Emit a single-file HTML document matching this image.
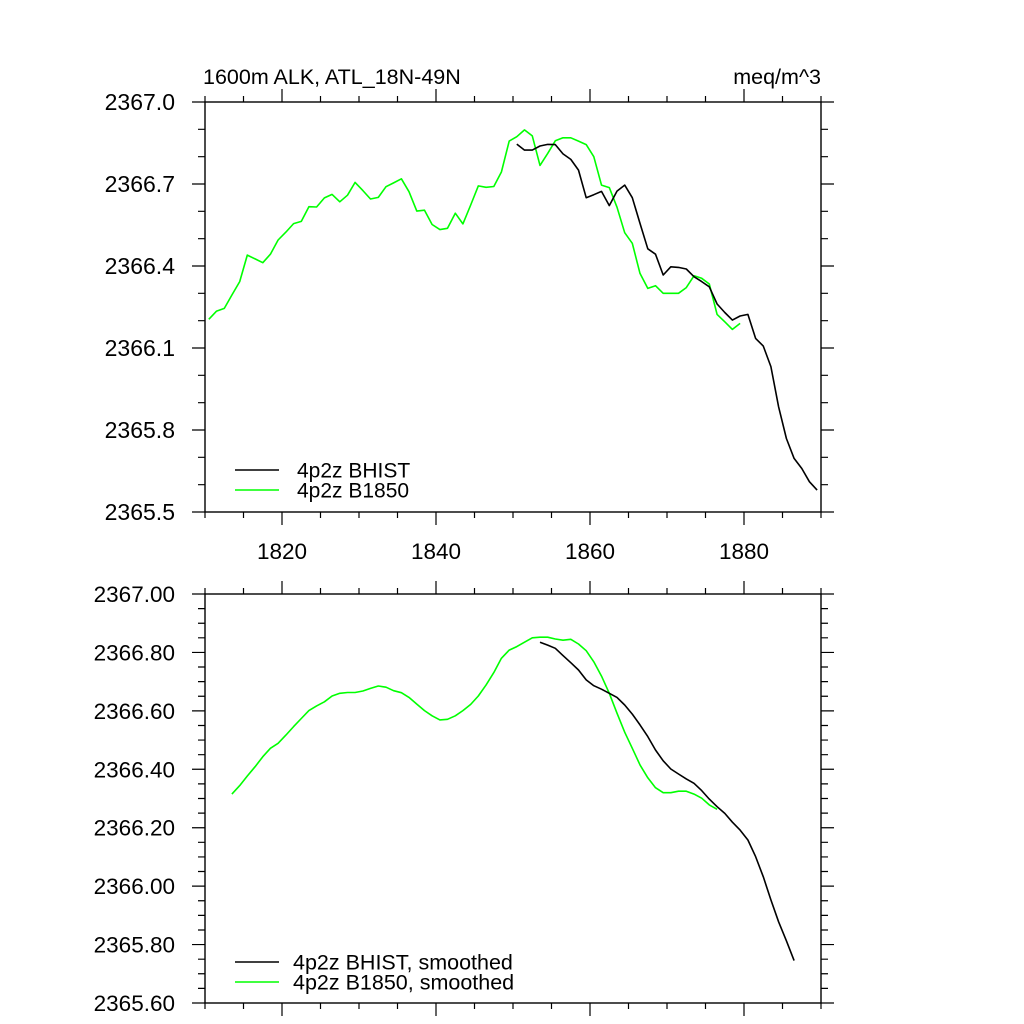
<!DOCTYPE html>
<html><head><meta charset="utf-8"><style>
html,body{margin:0;padding:0;background:#fff;}
svg{display:block;font-family:"Liberation Sans",sans-serif;}
</style></head><body>
<svg id="chart" width="1024" height="1024" viewBox="0 0 1024 1024" xmlns="http://www.w3.org/2000/svg">
<text x="203" y="84" font-size="21.5" fill="#000">1600m ALK, ATL_18N-49N</text>
<text x="821" y="84" font-size="21.5" fill="#000" text-anchor="end">meq/m^3</text>
<g id="top"></g>
<g id="bot"></g>
</svg>
<script>
const topYears0 = 1810.5;
const topGreen = [2366.205,2366.235,2366.245,2366.294,2366.343,2366.440,2366.426,2366.412,2366.443,2366.495,2366.524,2366.555,2366.563,2366.617,2366.616,2366.649,2366.662,2366.635,2366.659,2366.706,2366.676,2366.645,2366.651,2366.690,2366.704,2366.719,2366.672,2366.601,2366.604,2366.552,2366.533,2366.538,2366.593,2366.554,2366.623,2366.693,2366.688,2366.691,2366.744,2366.857,2366.873,2366.898,2366.876,2366.768,2366.812,2366.858,2366.869,2366.869,2366.857,2366.844,2366.800,2366.696,2366.687,2366.615,2366.522,2366.483,2366.373,2366.318,2366.328,2366.300,2366.300,2366.300,2366.321,2366.364,2366.355,2366.334,2366.223,2366.196,2366.168,2366.190];
const topBlackStart = 40;
const topBlack = [2366.846,2366.824,2366.824,2366.839,2366.845,2366.844,2366.810,2366.790,2366.751,2366.650,2366.661,2366.673,2366.621,2366.674,2366.696,2366.650,2366.556,2366.463,2366.443,2366.367,2366.397,2366.395,2366.389,2366.361,2366.343,2366.324,2366.261,2366.230,2366.202,2366.217,2366.223,2366.135,2366.107,2366.032,2365.885,2365.769,2365.696,2365.659,2365.611,2365.580];
const botGreenStart = 3;
const botGreen = [2366.315,2366.344,2366.377,2366.409,2366.443,2366.472,2366.489,2366.517,2366.546,2366.574,2366.601,2366.617,2366.631,2366.651,2366.660,2366.663,2366.663,2366.668,2366.677,2366.685,2366.681,2366.669,2366.662,2366.646,2366.623,2366.601,2366.583,2366.569,2366.571,2366.583,2366.601,2366.622,2366.651,2366.689,2366.731,2366.780,2366.808,2366.820,2366.835,2366.850,2366.852,2366.852,2366.846,2366.842,2366.845,2366.829,2366.806,2366.768,2366.719,2366.660,2366.592,2366.527,2366.472,2366.415,2366.371,2366.337,2366.320,2366.320,2366.325,2366.325,2366.315,2366.301,2366.278,2366.263];
const botBlackStart = 43;
const botBlack = [2366.835,2366.825,2366.814,2366.789,2366.765,2366.740,2366.706,2366.686,2366.674,2366.660,2366.646,2366.620,2366.589,2366.552,2366.512,2366.466,2366.429,2366.401,2366.384,2366.367,2366.352,2366.327,2366.298,2366.272,2366.249,2366.219,2366.192,2366.158,2366.101,2366.032,2365.953,2365.878,2365.813,2365.745];
const xTicks = [1820,1840,1860,1880];
const topYTicks = ["2367.0","2366.7","2366.4","2366.1","2365.8","2365.5"];
const botYTicks = ["2367.00","2366.80","2366.60","2366.40","2366.20","2366.00","2365.80","2365.60"];
const topLegend = ["4p2z BHIST","4p2z B1850"];
const botLegend = ["4p2z BHIST, smoothed","4p2z B1850, smoothed"];

const NS="http://www.w3.org/2000/svg";
const X0=205,X1=821,YR0=1810,YR1=1890;
function xs(yr){return X0+(yr-YR0)/(YR1-YR0)*(X1-X0);}
function mk(tag,attrs,parent){const e=document.createElementNS(NS,tag);for(const k in attrs)e.setAttribute(k,attrs[k]);parent.appendChild(e);return e;}

function panel(g,top,bot,vmin,vmax,majStep,minStep,yLabels,yFont,showX,legend,legY,legX,legFont,series){
  const ys=v=>bot-(v-vmin)/(vmax-vmin)*(bot-top);
  const frame=mk('rect',{x:X0,y:top,width:X1-X0,height:bot-top,fill:'none',stroke:'#000','stroke-width':1.4},g);
  
  
  let d='';
  for(let yr=YR0;yr<=YR1+0.01;yr+=5){
    const x=xs(yr);const L=(yr%20===0)?13:6;
    d+=`M${x},${bot}v${L}M${x},${top}v${-L}`;
  }
  const nMin=Math.round((vmax-vmin)/minStep);
  for(let i=0;i<=nMin;i++){
    const v=vmin+i*minStep;const y=ys(v);
    const maj=Math.abs((i*minStep)/majStep-Math.round((i*minStep)/majStep))<1e-6;
    const L=maj?13:7;
    d+=`M${X0},${y}h${-L}M${X1},${y}h${L}`;
  }
  const t=mk('path',{d:d,stroke:'#000','stroke-width':1.2,fill:'none'},g);
  
  
  yLabels.forEach((s,i)=>{
    const y=ys(vmax-i*majStep);
    const e=mk('text',{x:175,y:y+8,'font-size':yFont,'text-anchor':'end',fill:'#000'},g);
    e.textContent=s;
    
    
  });
  if(showX){xTicks.forEach(yr=>{
    const e=mk('text',{x:xs(yr),y:559,'font-size':22.5,'text-anchor':'middle',fill:'#000'},g);
    e.textContent=String(yr);
    
    
  });}
  series.forEach(s=>{
    const pts=s.vals.map((v,i)=>xs(YR0+0.5+s.start+i).toFixed(1)+','+ys(v).toFixed(1)).join(' ');
    const p=mk('polyline',{points:pts,fill:'none',stroke:s.color,'stroke-width':1.6,'stroke-linejoin':'round'},g);
    
    
  });
  legend.forEach((s,i)=>{
    const y=legY+i*20;const col=i===0?'#000':'#00ff00';
    const l=mk('line',{x1:235,x2:279,y1:y,y2:y,stroke:col,'stroke-width':1.6},g);
    
    
    const e=mk('text',{x:legX,y:y+7.5,'font-size':legFont,fill:'#000'},g);
    e.textContent=s;
    
    
  });
}
panel(document.getElementById('top'),102,512,2365.5,2367.0,0.3,0.1,topYTicks,23,true,topLegend,470,297,21,[
  {vals:topGreen,start:0,color:'#00ff00',name:'line-b1850'},
  {vals:topBlack,start:topBlackStart,color:'#000',name:'line-bhist'}]);
panel(document.getElementById('bot'),594,1003,2365.6,2367.0,0.2,0.05,botYTicks,22.5,false,botLegend,962,293,21.5,[
  {vals:botGreen,start:botGreenStart,color:'#00ff00',name:'line-b1850-smoothed'},
  {vals:botBlack,start:botBlackStart,color:'#000',name:'line-bhist-smoothed'}]);
</script>
</body></html>
